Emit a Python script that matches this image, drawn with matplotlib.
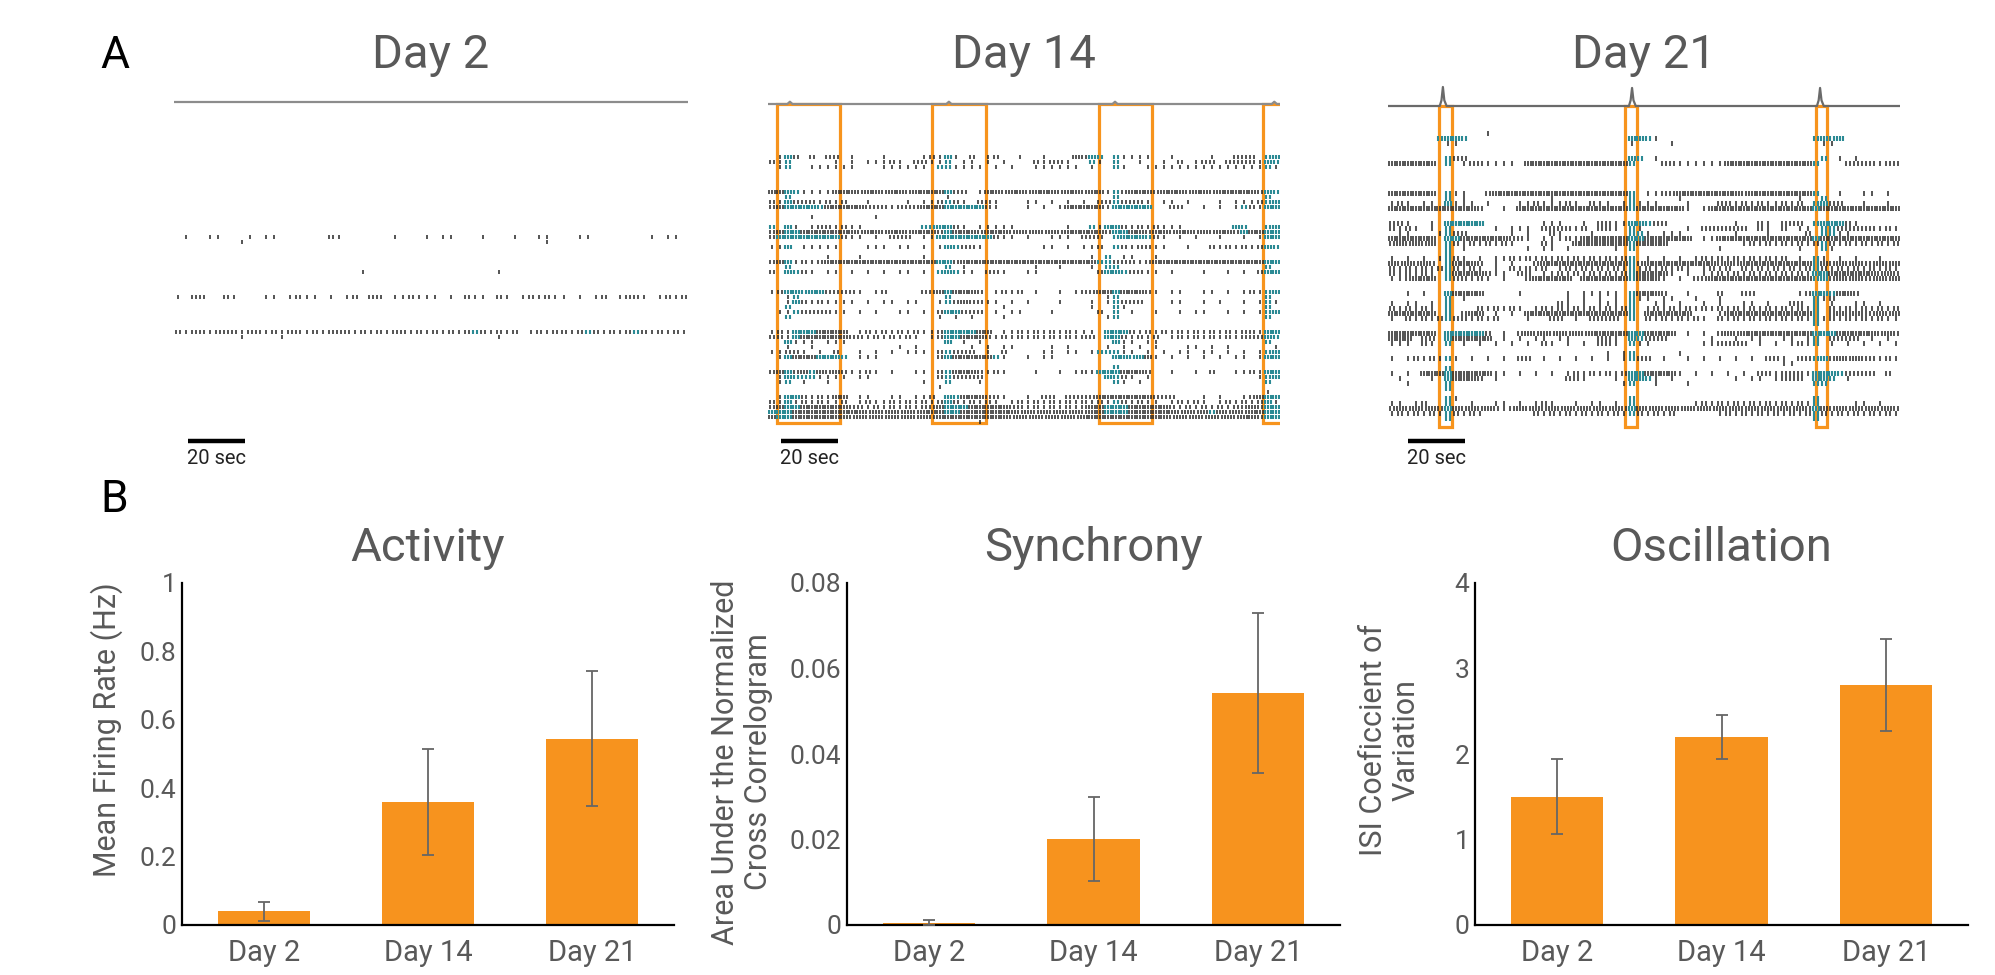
import matplotlib
matplotlib.use("Agg")
import matplotlib.pyplot as plt
from matplotlib.patches import Rectangle
import numpy as np

plt.rcParams['font.family'] = ['Roboto', 'DejaVu Sans']

W, H = 1995, 975
DUR = 180.0      # seconds shown in each raster
NBIN = 64        # characters per raster row

# raster rows, one string per neuron, NBIN bins of DUR/NBIN s each
# '-' no spike, '.' one spike, ':' two, '#' three, 't' two burst spikes, 'T' three burst spikes
day2_rows = [""] * 54
day2_rows[16] = "-.--..---.|-..------:|.------.--|-.-..---.-|--.--..---|..-------.|-..-"
day2_rows[17] = "--------.-|----------|----------|----------|------.---|----------|----"
day2_rows[23] = "----------|----------|---.------|----------|.---------|----------|----"
day2_rows[28] = ".-::--:.--|-..-.:..-.|-.:-::-..:|...-.-:..-|:.-.:.:..-|.-.:-.::.-|.:.:"
day2_rows[35] = ":.::.:::.:|:.:.::.:.:|::.:.:.::.|:.:.:.:t:.|:.:-.:.::.|:t:.:.:t:.|:.:."
day2_rows[36] = "--------.-|---.------|----------|----------|.---------|----------|----"

day14_rows = [
    "-.T:-:-::-|.---.----.|:.T.-:-.:-|-.--.---#:|Tt-t....--|.----.--::|:-tT",
    ":.t-----.-|.-...:.-::|..t-..-.-.|---:.::.--|t.-t--.--.|-:-.::-:::|:.Tt",
    "-.t--.....|.---......|-tt....-.-|.--......-|.--t.--...|..........|..t.",
    "", "", "", "",
    "##Tt....##|#:##:##:##|##T::-.##:|##:###:##:|##.t:###:#|##:##:####|#:Tt",
    "--t-------|----------|--.-------|----------|---t------|----------|--t-",
    ":.T:::.:.:|--.----.-.|.:t:.-::.-|--..-.-.-.|-::t:::.-.|.-.---.-..|.:tT",
    ":#TTTTt###|##:::.:::#|##TTTTT:.-|--.-.-.###|##.TTTTT--|::--.-.-.t|:.TT",
    "",
    "-----.----|---.------|----------|----------|----------|----------|----",
    "",
    "t-T.-.::.:|..-------t|tTT:.-....|.------.--|t.TT:.:.:.|..------Tt|--tT",
    ":#TT######|#:##:##:##|#:T###:###|:#:#:#:###|##:TT##:##|:##:#:##:T|##TT",
    ":TTTTTTTT:|..-.-:::-.|.TTTTTTT:.|.-.--...-:|::-tTTTt:.|-.-.--.--.|-.TT",
    "",
    "..T-.....-|--...-..-.|-.Tt::.---|----..-.-.|.:-t:.::..|--.--:.:.:|.:Tt",
    "",
    "-------.--|-.-------.|----------|----------|.-t-..--.-|----------|----",
    ":#T.:.:###|##########|#TT:######|##########|#tt:::.:##|##########|##TT",
    "--t-------|----------|--t-.-----|---.--.---|.-tt------|----------|--t-",
    ":-Tt:.-..-|.-.-.-..-.|-tTt..-::.|--..------|-:TTt::..-|.---.--.-.|-:TT",
    "", "", "",
    ".:TTtTT:::|:.-.:----:|:#T###:-.:|.:-.--.-.:|:##T###:.-|..--..-.-.|:.tT",
    "--.t------|----------|--t-------|----------|--.t------|----------|--t-",
    "--.T:.:...|.-.-..-..-|-.t:#::..-|.-.---.---|.-.t:::---|..--.-.--.|-.t.",
    "--t-------|----------|---------.|----------|.--t.-----|----------|--t-",
    "-..t::::..|-.-.--..-.|-:TT:::-.-|..---.----|-:-t-.--.-|-.-..--.-.|-.tT",
    "--t-------|----------|-.-.-.---.|----------|--.t------|----------|--t-",
    "", "",
    ".:.TTT####|-.:.:.:.:.|.:TTTT##-.|.:.:.:.:..|.-TTT:.:.:|.:.:.:.:.:|:.TT",
    "::.T######|::.:.:.:.-|.:TT###:.:|.:.:.:.:.:|:-TT:.:.:-|.:.:.:.:.:|::Tt",
    "--T...-...|----------|--T-.-.---|----------|---T..-..-|----------|--t-",
    "--.--.----|------.-.-|-----.-.-.|.----.-.--|--.-.-.-.-|--..-.-.--|---.",
    "..::.-.-:-|-.-.-.-...|-:t:::-.-:|----..-..-|.ttt..-.-.|-..-..-.-.|-.tT",
    "-.T###TTTt|-...------|-:T#####t.|--.-..----|---TTtT#.-|.-.-.-.-..|-.TT",
    "",
    "----------|----------|----------|----------|---t------|----------|----",
    ":#T:#t#:#:|..:.-.--..|-:t###:.:.|---.--.-.:|.TTT###:--|.--.-:--..|:.TT",
    "-.Tttt....|-..-------|-:t::::---|----------|--Tt:.-.--|----------|-.tT",
    "-.t-.--.--|---------.|--t---.---|----------|---t.-.---|----------|--t-",
    "----------|----------|-.--------|----------|----------|----------|----",
    "----------|----------|----------|----------|----------|----------|--.-",
    "-.TT:.:.##|-..--..-..|:-Tt###::.|--.-::-:::|:#######::|:---.-.--.|:#TT",
    ":.T.:.:..:|-.:..:.:.:|.:T:.:.:.-|.:.:.:.:.:|.:.t:.:..-|.:.:.-.:.:|.:T.",
    ":#TT######|::.:.:.:.:|:#TTT#####|::.:.:.:.:|##TTT#####|:.:.:.:.::|#:TT",
    "TTT#######|##:#:#:#:#|##TT######|#:#:#:#:#:|##TTT#####|#:#:#t#:#:|##TT",
    "#TT#######|:#:#:#:#:#|:#########|:#:#:#:#:#|##########|:#:#:#:#:#|#:TT",
    "----------|----------|------.---|----------|----------|----------|----",
]

day21_rows = [
    "----------|--.-------|----------|----------|----------|----------|----",
    "------tTTt|----------|----------|TTt.------|----------|---tTtT---|----",
    "-------..-|----------|----------|.----.----|----------|----..----|----",
    "", "",
    "-------t::|----------|----------|Tt-.------|----------|----t-.-.-|----",
    "######-t-.|::....-###|##########|t---::....|..########|###t---:::|:.::",
    "", "", "", "", "",
    "######-t..|--:#######|##########|t-..::####|####:#####|###t--.--.|.-.-",
    "-------t-.|----------|.---------|t-----.---|----------|-.--t-----|----",
    ".:.-..-T..|.-.---..:.|..:.-:..-.|t...---.--|-::.:.:..:|.:-tT::--.|--.-",
    "##########|#:--.-####|##########|t######.-.|##########|###T######|####",
    "", "",
    "::.--.-TTT|TT-------.|..--.-::..|TTt::-----|---.--:.-:|::-tTTT:.-|----",
    ":.:.-.-t--|---.-...-:|:::.:-::.-|t.-----.-:|:::::-:.-:|-..-tt::::|:.:.",
    "-..---.t::|-----.-.--|:.---.----|tt.-...---|---.---.--|--:-tt..--|----",
    "######-TT#|#####::.-.|..:.######|TT######-.|.#########|###T######|####",
    ":#:#:#-t:.|:.:.:.---:|.--#######|t####-----|----.:.:.:|.:.:t:.:.:|.:.:",
    "-------t-.|-------.-.|.-.-----.-|t---------|-.--------|-.--t.----|----",
    "-------t--|----------|----------|----------|----------|----------|----",
    ".-.-.-.t:.|-.-..:.:.:|.:.:.:.:.:|t-.-.-.-.:|.:.:.:.:.:|-.-t.-.-.-|-.--",
    "#:#:#:-t##|#:-.-.--:#|##########|t:########|#:#:######|###t#:#:#:|:#:#",
    ":.:.:.:t:.|:.-.-:.:.:|-.:.:.:.:.|t.:.:.:.-.|:.:-:.:.:.|:.:t:.:.:.|:.:.",
    ":.:.:.-t##|##:..-::-.|.:.:.:.:.:|t####.-.-.|.:.:.:.:.:|.:.TT#####|#:#:",
    "..:###-t::|.:.-.--:##|###-######|t###.-.-::|##########|###tT:#:#:|:#:#",
    "", "",
    "--.-.--T##|##----.---|--.-.....-|t###:--.--|-:--::----|-.:TTt##:-|----",
    "-------t-.|----------|--.-.-.-.-|t..-..--.-|-.--------|---t.:----|----",
    ".-..-.-t--|----------|-:.-.-...-|t--..-.--.|-.--..-.--|::-t-.--..|-.--",
    ":.:.:.-t--|-:.:.:.-.:|.:.:.:.:.:|t-.:.:.:.:|.:.:.:.:.:|.:.t-:.:.:|.:.:",
    "######-t-:|##-.-.-###|##########|t-######--|-.########|###t-:#:#:|:#:#",
    ".-:.:.:t::|.:.:---.--|::-.-::::-|t-:.:.:.:.|-:.:.:.:.:|.:.t.:.:.:|.:..",
    "----------|----------|----------|----------|----------|---t------|----",
    "",
    "######-TTT|TT:-.-:#:#|:#:#:#####|TT####-.-.|-:#:######|###TTT####|#:#:",
    "###-::-T##|###-.-.-..|-..---::.-|Tt:::-----|.--.-..--.|.-.t-::::-|.-.-",
    "...-:.-t-.|-.-.-.-.-:|.-.-.-::.-|t..------.|.::::-.-.-|.:.t-.-.-.|-.-.",
    "",
    "----------|----------|-------.-.|t-----.---|----------|----------|----",
    ".-.:.:.t.-|.-.-.-::-.|-.-.-.-.-.|t::-.--.-.|-.-.-.-::.|-::tT:#:#:|:.:.",
    "----------|----------|----------|----------|---------.|.---------|----",
    "-------t--|----------|----------|----------|----------|----------|----",
    ".-.-###T##|###..-.-.-|.-.:.:.:.:|TT####.-.-|.-.-.-::.:|::.TTTt:::|:-:-",
    "-.---.-T##|#:-.------|--::.---.-|TTt.-.----|---.-..-.:|::-TTt-.--|----",
    "--.----t--|----------|---------.|t--.---.--|----------|---tt-----|----",
    "-------t--|----------|----------|----------|----------|----------|----",
    "",
    "-------t.-|----------|----------|t---------|----------|---t------|----",
    "..-.:--t--|.--..-.-.:|.--.-..-.-|t-------.:|.:.:.:.:.:|.:.t----..|-.--",
    ":#:#:#:T#:|#:#:.:#:#:|#:#:#:#:#:|T#:#:#:#:#|:#:#:#:#:#|:#:T#:#:#:|#:#:",
    ".:.:.:.t:.|:.------:.|:.:.:.:.:.|t:.:.:----|-.:.:.:.:.|:.:t:.:.:.|:.:.",
    "-------t--|----------|----------|----------|----------|---t------|----",
]

# population activity trace above each raster (1 = tallest peak)
day2_trace_t = [0, 180]
day2_trace_v = [0, 0]
day14_trace_t = [0, 6.8, 7.7, 8.6, 62.7, 63.6, 64.5, 121.1, 122.0, 122.9, 177.1, 178.0, 178.9, 180]
day14_trace_v = [0, 0, 0.12, 0, 0, 0.12, 0, 0, 0.12, 0, 0, 0.12, 0, 0]
day21_trace_t = [0, 18.2, 18.8, 19.3, 19.8, 20.6, 84.7, 85.3, 85.8, 86.3, 87.1,
                 150.8, 151.4, 151.9, 152.4, 153.2, 180]
day21_trace_v = [0, 0, 0.3, 1.0, 0.3, 0, 0, 0.3, 0.95, 0.3, 0, 0, 0.3, 0.95, 0.3, 0, 0]

# network burst windows (s)
day14_bursts = [(3.2, 25.3), (57.7, 76.6), (116.4, 135.0), (174.0, 190.0)]
day21_bursts = [(17.9, 22.5), (83.3, 87.5), (150.5, 154.4)]

# bar charts
days = ["Day 2", "Day 14", "Day 21"]
activity_mean = [0.040, 0.360, 0.545]
activity_err = [0.027, 0.155, 0.197]
sync_mean = [0.0005, 0.0202, 0.0542]
sync_err = [0.0006, 0.0098, 0.0187]
osc_mean = [1.50, 2.20, 2.81]
osc_err = [0.44, 0.26, 0.54]

ORANGE = "#F7931E"
TEAL = "#2b8a94"
SPIKE = "#262626"
GREY = "#595959"


def px_axes(fig, x0, y0, x1, y1):
    return fig.add_axes([x0 / W, 1 - y1 / H, (x1 - x0) / W, (y1 - y0) / H])


def raster(fig, x0, x1, title, rows, row0, trace_t, trace_v, trace_px, trace_col,
           bursts=None, box_px=None, bar_t0=5.0):
    ax = px_axes(fig, x0, 85, x1, 470)
    ax.set_xlim(0, DUR)
    ax.set_ylim((470 - row0) / 5, (85 - row0) / 5)
    ax.axis("off")
    bw = DUR / NBIN
    bx, by, tx, ty = [], [], [], []
    for i, s in enumerate(rows):
        s = s.replace("|", "").ljust(NBIN, "-")[:NBIN]
        for k, c in enumerate(s):
            n = {".": 1, ":": 2, "#": 3, "t": 2, "T": 3}.get(c, 0)
            for m in range(n):
                t = (k + (2 * m + 1) / (2 * n)) * bw
                if c in "tT":
                    tx.append(t); ty.append(i)
                else:
                    bx.append(t); by.append(i)
    ax.vlines(bx, np.array(by) - 0.42, np.array(by) + 0.42, color=SPIKE, lw=1.1)
    ax.vlines(tx, np.array(ty) - 0.42, np.array(ty) + 0.42, color=TEAL, lw=1.5)
    base = (trace_px - row0) / 5
    ax.plot(trace_t, base - 3.8 * np.array(trace_v), color=trace_col, lw=1.6,
            solid_joinstyle="round")
    if bursts:
        top = (box_px[0] - row0) / 5
        bot = (box_px[1] - row0) / 5
        for a, b in bursts:
            ax.add_patch(Rectangle((a, top), b - a, bot - top, fill=False,
                                   ec="#F7941D", lw=2.3, clip_on=True))
    ybar = (441 - row0) / 5
    ax.plot([bar_t0, bar_t0 + 20], [ybar, ybar], color="black", lw=3.2,
            solid_capstyle="butt")
    ax.text(bar_t0 - 0.3, (449 - row0) / 5, "20 sec", ha="left", va="top",
            fontsize=14.5, color="#222222")
    fig.text((x0 + x1) / 2 / W, 1 - 68 / H, title, ha="center", va="baseline",
             fontsize=34, color=GREY)


def bars(fig, x0, x1, title, means, errs, ymax, ticks, ticklabels, ylabel, ylab_x, ylab_y):
    ax = px_axes(fig, x0, 583, x1, 925)
    x = np.arange(len(days))
    ax.bar(x, means, width=0.56, color=ORANGE, zorder=2)
    ax.errorbar(x, means, yerr=errs, fmt="none", ecolor="#666666", elinewidth=1.3,
                capsize=4.5, capthick=1.3, zorder=3)
    ax.set_xlim(-0.5, 2.5)
    ax.set_ylim(0, ymax)
    ax.set_xticks(x)
    ax.set_xticklabels(days, fontsize=21, color=GREY)
    ax.set_yticks(ticks)
    ax.set_yticklabels(ticklabels, fontsize=19, color=GREY)
    ax.tick_params(axis="both", length=0)
    ax.tick_params(axis="x", pad=10)
    ax.tick_params(axis="y", pad=4)
    for sp in ["top", "right"]:
        ax.spines[sp].set_visible(False)
    for sp in ["left", "bottom"]:
        ax.spines[sp].set_linewidth(1.6)
        ax.spines[sp].set_color("black")
    fig.text((x0 + x1) / 2 / W, 1 - 561 / H, title, ha="center", va="baseline",
             fontsize=34, color=GREY)
    fig.text(ylab_x / W, 1 - ylab_y / H, ylabel, rotation=90, ha="center", va="center",
             multialignment="center", fontsize=22, color=GREY, linespacing=1.15)


fig = plt.figure(figsize=(W / 100, H / 100), dpi=100)

raster(fig, 174, 688, "Day 2", day2_rows, 157, day2_trace_t, day2_trace_v, 102,
       "#8c8c8c", bar_t0=4.9)
raster(fig, 768, 1280, "Day 14", day14_rows, 157, day14_trace_t, day14_trace_v, 104,
       "#8c8c8c", bursts=day14_bursts, box_px=(104, 423), bar_t0=4.6)
raster(fig, 1388, 1900, "Day 21", day21_rows, 133.5, day21_trace_t, day21_trace_v, 106,
       "#6a6a6a", bursts=day21_bursts, box_px=(106, 427), bar_t0=7.0)

bars(fig, 182, 674, "Activity", activity_mean, activity_err, 1.0,
     [0, 0.2, 0.4, 0.6, 0.8, 1.0], ["0", "0.2", "0.4", "0.6", "0.8", "1"],
     "Mean Firing Rate (Hz)", 107, 730)
bars(fig, 847, 1340, "Synchrony", sync_mean, sync_err, 0.08,
     [0, 0.02, 0.04, 0.06, 0.08], ["0", "0.02", "0.04", "0.06", "0.08"],
     "Area Under the Normalized\nCross Correlogram", 742, 762)
bars(fig, 1475, 1968, "Oscillation", osc_mean, osc_err, 4.0,
     [0, 1, 2, 3, 4], ["0", "1", "2", "3", "4"],
     "ISI Coeficcient of\nVariation", 1390, 740)

fig.text(100 / W, 1 - 68 / H, "A", fontsize=32, color="black", ha="left", va="baseline")
fig.text(100 / W, 1 - 512 / H, "B", fontsize=32, color="black", ha="left", va="baseline")

fig.savefig("out.png", dpi=100, facecolor="white")
